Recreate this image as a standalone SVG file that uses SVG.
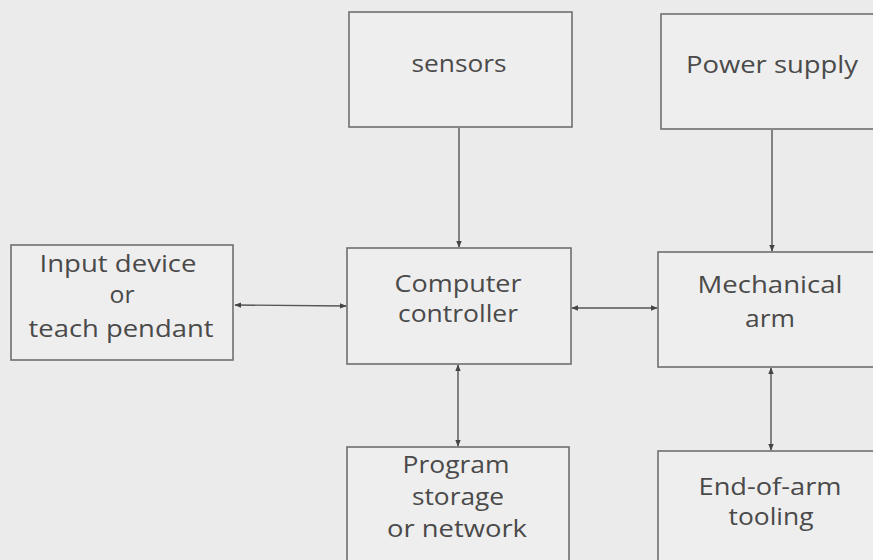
<svg xmlns="http://www.w3.org/2000/svg" width="873" height="560" viewBox="0 0 873 560">
<style>
.box{fill:#efeeee;stroke:#6f6f6f;stroke-width:1.6}
.t{font-family:"Open Sans","DejaVu Sans",sans-serif;font-size:23px;fill:#4a4a4a;text-anchor:middle}
.c{stroke:#555;stroke-width:1.4;fill:none}
</style>
<defs>
<marker id="ah" viewBox="0 0 10 10" refX="9" refY="5" markerWidth="7" markerHeight="7" orient="auto-start-reverse" markerUnits="userSpaceOnUse">
<path d="M0,1 L10,5 L0,9 z" fill="#444"/>
</marker>
</defs>
<rect width="873" height="560" fill="#ebebeb"/>
<g id="connectors">
<line class="c" x1="459" y1="128" x2="459" y2="247" marker-end="url(#ah)"/>
<line class="c" x1="772" y1="130" x2="772" y2="251" marker-end="url(#ah)"/>
<line class="c" x1="235" y1="305" x2="346" y2="306" marker-start="url(#ah)" marker-end="url(#ah)"/>
<line class="c" x1="572" y1="308" x2="657" y2="308" marker-start="url(#ah)" marker-end="url(#ah)"/>
<line class="c" x1="458" y1="365" x2="458" y2="446" marker-start="url(#ah)" marker-end="url(#ah)"/>
<line class="c" x1="771" y1="368" x2="771" y2="450" marker-start="url(#ah)" marker-end="url(#ah)"/>
</g>
<g id="sensors">
<rect class="box" x="349" y="12" width="223" height="115"/>
<text class="t" x="459" y="72" textLength="95" lengthAdjust="spacingAndGlyphs">sensors</text>
</g>
<g id="power">
<rect class="box" x="661" y="14" width="220" height="115"/>
<text class="t" x="772" y="73" textLength="172" lengthAdjust="spacingAndGlyphs">Power supply</text>
</g>
<g id="input">
<rect class="box" x="11" y="245" width="222" height="115"/>
<text class="t" x="118" y="272" textLength="157" lengthAdjust="spacingAndGlyphs">Input device</text>
<text class="t" x="122" y="303" textLength="25" lengthAdjust="spacingAndGlyphs">or</text>
<text class="t" x="121" y="337" textLength="185" lengthAdjust="spacingAndGlyphs">teach pendant</text>
</g>
<g id="controller">
<rect class="box" x="347" y="248" width="224" height="116"/>
<text class="t" x="458" y="292" textLength="127" lengthAdjust="spacingAndGlyphs">Computer</text>
<text class="t" x="458" y="322" textLength="120" lengthAdjust="spacingAndGlyphs">controller</text>
</g>
<g id="arm">
<rect class="box" x="658" y="252" width="225" height="115"/>
<text class="t" x="770" y="293" textLength="145" lengthAdjust="spacingAndGlyphs">Mechanical</text>
<text class="t" x="770" y="327" textLength="50" lengthAdjust="spacingAndGlyphs">arm</text>
</g>
<g id="storage">
<rect class="box" x="347" y="447" width="222" height="125"/>
<text class="t" x="456" y="473" textLength="107" lengthAdjust="spacingAndGlyphs">Program</text>
<text class="t" x="458" y="505" textLength="92" lengthAdjust="spacingAndGlyphs">storage</text>
<text class="t" x="457" y="537" textLength="140" lengthAdjust="spacingAndGlyphs">or network</text>
</g>
<g id="tooling">
<rect class="box" x="658" y="451" width="225" height="125"/>
<text class="t" x="770" y="495" textLength="143" lengthAdjust="spacingAndGlyphs">End-of-arm</text>
<text class="t" x="771" y="525" textLength="85" lengthAdjust="spacingAndGlyphs">tooling</text>
</g>
</svg>
